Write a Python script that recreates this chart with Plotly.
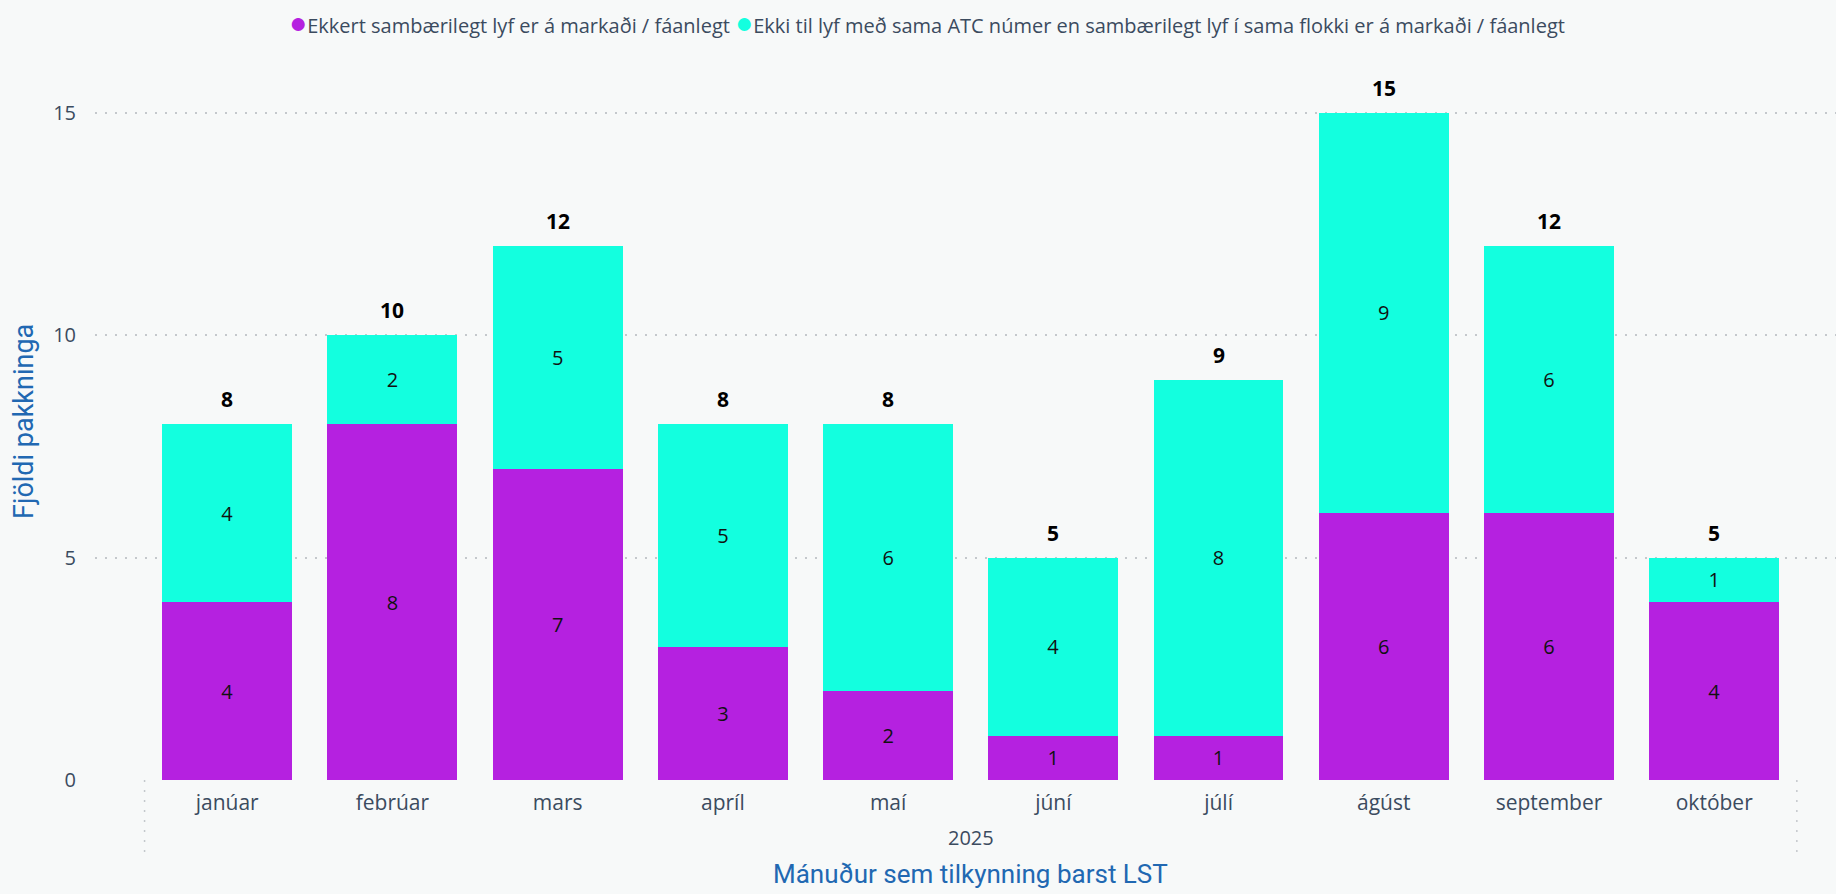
import plotly.graph_objects as go

months = ["janúar", "febrúar", "mars", "apríl", "maí", "júní", "júlí", "ágúst", "september", "október"]
year_label = "2025"
series_names = [
    "Ekkert sambærilegt lyf er á markaði / fáanlegt",
    "Ekki til lyf með sama ATC númer en sambærilegt lyf í sama flokki er á markaði / fáanlegt",
]
no_equivalent = [4, 8, 7, 3, 2, 1, 1, 6, 6, 4]
same_class = [4, 2, 5, 5, 6, 4, 8, 9, 6, 1]
y_ticks = [0, 5, 10, 15]

PURPLE = "#B521E0"
CYAN = "#13FFDF"
BG = "#F7F9F9"
TICK = "#3B4B5F"
TITLE = "#2168B2"
FONT = "Segoe UI, Open Sans, Noto Sans, sans-serif"
TFONT = "Roboto, Noto Sans, sans-serif"

W, H = 1836, 894
ML, MR, MT, MB = 95, 0, 60, 114

totals = [a + b for a, b in zip(no_equivalent, same_class)]
xidx = list(range(len(months)))

fig = go.Figure()
fig.add_trace(go.Bar(
    x=xidx, y=no_equivalent, name=series_names[0], marker=dict(color=PURPLE, line=dict(width=0)),
    text=no_equivalent, textposition="inside", insidetextanchor="middle",
    textfont=dict(color="#111111", size=20, family=FONT), showlegend=False,
))
fig.add_trace(go.Bar(
    x=xidx, y=same_class, name=series_names[1], marker=dict(color=CYAN, line=dict(width=0)),
    text=same_class, textposition="inside", insidetextanchor="middle",
    textfont=dict(color="#111111", size=20, family=FONT), showlegend=False,
))

annotations = []
for i, t in enumerate(totals):
    annotations.append(dict(
        x=i, y=t, xref="x", yref="y", text=f"<b>{t}</b>", showarrow=False,
        yanchor="bottom", yshift=9, font=dict(size=21, color="#000000", family=FONT),
    ))

plot_w = W - ML - MR
plot_h = H - MT - MB
annotations.append(dict(
    x=(len(months) - 1) / 2, xref="x", y=-(837 - (H - MB)) / plot_h, yref="paper",
    text=year_label, showarrow=False, yanchor="middle", font=dict(size=20, color=TICK, family=FONT),
))
annotations.append(dict(
    x=(len(months) - 1) / 2, xref="x", y=-(874 - (H - MB)) / plot_h, yref="paper",
    text="Mánuður sem tilkynning barst LST", showarrow=False, yanchor="middle",
    font=dict(size=26, color=TITLE, family=TFONT),
))
annotations.append(dict(
    x=-(ML - 24) / plot_w, xref="paper", y=1 - (422 - MT) / plot_h, yref="paper",
    text="Fjöldi pakkninga", showarrow=False, textangle=-90, xanchor="center", yanchor="middle",
    font=dict(size=27, color=TITLE, family=TFONT),
))
legend_text = (
    f"<span style='color:{PURPLE};font-size:30px'>●</span>{series_names[0]} "
    f"<span style='color:{CYAN};font-size:30px'>●</span>{series_names[1]}"
)
annotations.append(dict(
    x=(927 - ML) / plot_w, xref="paper", y=1 + (MT - 22) / plot_h, yref="paper",
    text=legend_text, showarrow=False, xanchor="center", yanchor="middle",
    font=dict(size=20, color=TICK, family=FONT),
))

shapes = []
for xv in [-0.5, len(months) - 0.5]:
    shapes.append(dict(
        type="line", xref="x", yref="paper", x0=xv, x1=xv, y0=0, y1=-(857 - (H - MB)) / plot_h,
        line=dict(color="#C4C8CC", width=1.5, dash="2px,8px"),
    ))

fig.update_layout(
    barmode="stack", bargap=0.214,
    width=W, height=H,
    margin=dict(l=ML, r=MR, t=MT, b=MB),
    paper_bgcolor=BG, plot_bgcolor=BG,
    font=dict(family=FONT, color=TICK),
    annotations=annotations, shapes=shapes,
    xaxis=dict(
        range=[-0.80, 9.737], tickmode="array", tickvals=xidx, ticktext=months,
        showgrid=False, zeroline=False, showline=False, ticks="",
        ticklabelstandoff=8,
        tickfont=dict(size=21, color=TICK, family=FONT),
    ),
    yaxis=dict(
        range=[0, 16.18], tickvals=y_ticks, showgrid=True, gridcolor="#C4C8CC",
        gridwidth=1.5, griddash="2px,8px", zeroline=False, showline=False, ticks="",
        ticklabelstandoff=18, tickfont=dict(size=20, color=TICK, family=FONT),
    ),
)

fig.write_html(
    "out.html",
    config={"displayModeBar": False},
    post_script="document.body.style.margin='0';document.body.style.overflow='hidden';"
                f"document.body.style.background='{BG}';",
)
